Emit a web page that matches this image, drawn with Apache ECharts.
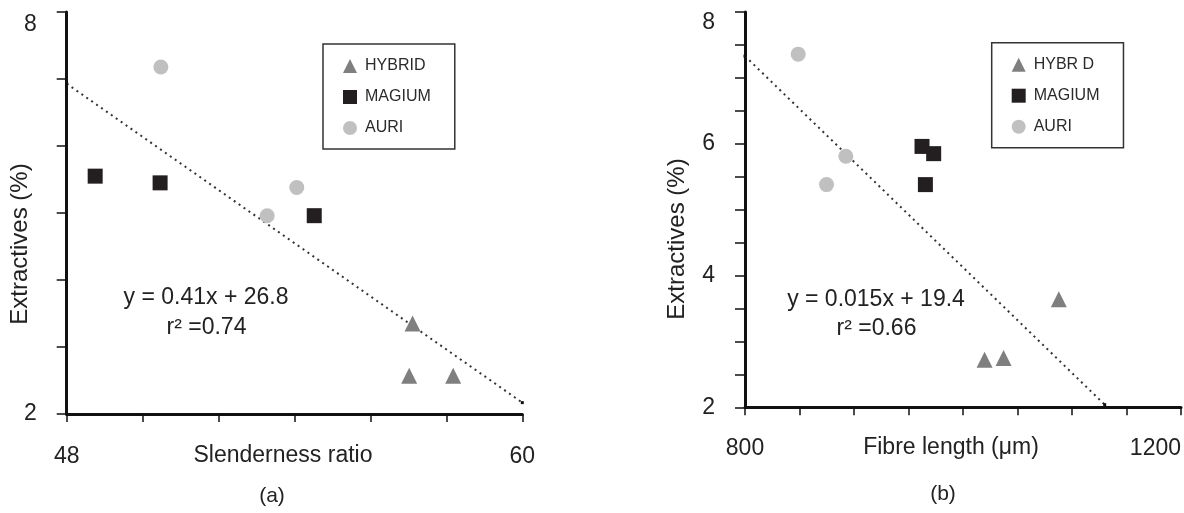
<!DOCTYPE html>
<html>
<head>
<meta charset="utf-8">
<script src="https://cdn.jsdelivr.net/npm/echarts@6/dist/echarts.min.js"></script>
<style>
html,body{margin:0;padding:0;background:#fff;}
#c{width:1184px;height:513px;}
</style>
</head>
<body>
<div id="c"></div>
<script>
// ---- data ----
const legendA = ['HYBRID', 'MAGIUM', 'AURI'];
const legendB = ['HYBR D', 'MAGIUM', 'AURI'];

// (a) Slenderness ratio vs Extractives (%)
const slenderHybrid = [[57.11, 3.35], [57.02, 2.57], [58.18, 2.57]];
const slenderMagium = [[48.75, 5.55], [50.46, 5.45], [54.52, 4.96]];
const slenderAuri   = [[50.48, 7.18], [53.28, 4.96], [54.06, 5.38]];
const slenderTrend  = [[48, 6.93], [60, 2.17]];
const slenderTicksShown = [48, 60];
const slenderEq = ['y = 0.41x + 26.8', 'r\u00B2 =0.74'];

// (b) Fibre length vs Extractives (%)
const fibreHybrid = [[1087.9, 3.64], [1019.8, 2.72], [1037.2, 2.75]];
const fibreMagium = [[962.4, 5.96], [973.1, 5.85], [965.5, 5.38]];
const fibreAuri   = [[848.8, 7.36], [892.5, 5.81], [874.8, 5.38]];
const fibreTrend  = [[800, 7.33], [1130, 2.04]];
const fibreTicksShown = [800, 1200];
const fibreEq = ['y = 0.015x + 19.4', 'r\u00B2 =0.66'];

const yTicksShownA = [2, 8];
const yTicksShownB = [2, 4, 6, 8];

// ---- styles ----
const FONT = '"Liberation Sans", Arial, sans-serif';
const C_HY = '#7f7f7f', C_MA = '#231f20', C_AU = '#c0c0c0';
const AXC = '#111';

function yLabel(shown) {
  return function (v) {
    const r = Math.round(v * 1000) / 1000;
    if (shown.indexOf(r) < 0) return '';
    if (r === 8) return '{t|8}';
    return String(r);
  };
}
function xLabel(shown) {
  return function (v) {
    const r = Math.round(v * 1000) / 1000;
    return shown.indexOf(r) >= 0 ? String(r) : '';
  };
}
function axisCommon() {
  return {
    axisLine: { show: true, onZero: false, lineStyle: { color: AXC, width: 3 } },
    axisTick: { show: true, lineStyle: { color: AXC, width: 1.5 } },
    splitLine: { show: false }
  };
}
function legend(data, left, top) {
  const icons = ['triangle', 'rect', 'circle'];
  return {
    orient: 'vertical', left: left, top: top,
    selectedMode: false,
    data: data.map((n, i) => ({ name: n, icon: icons[i] })),
    itemWidth: 14, itemHeight: 14, itemGap: 15,
    padding: [14, 24, 13, 20],
    borderColor: '#333', borderWidth: 1.5,
    textStyle: { fontFamily: FONT, fontSize: 16, color: '#2a2a2a', padding: [0, 0, 0, 3] }
  };
}
function scatter(name, data, color, symbol, xi) {
  return {
    type: 'scatter', name: name, data: data, xAxisIndex: xi, yAxisIndex: xi,
    symbol: symbol, symbolSize: symbol === 'triangle' ? 16 : 15,
    itemStyle: { color: color, opacity: 1 }, silent: true, z: 3
  };
}
function trend(data, xi) {
  return {
    type: 'line', data: data, xAxisIndex: xi, yAxisIndex: xi,
    symbol: 'rect', symbolSize: 3, showSymbol: true, silent: true,
    itemStyle: { color: '#111' },
    lineStyle: { color: '#333', width: 2, type: [2, 4] }, z: 2
  };
}
function txt(text, x, y, size, rot) {
  return {
    type: 'text', x: x, y: y, rotation: rot || 0, silent: true,
    style: { text: text, font: size + 'px ' + FONT, fill: '#222', textAlign: 'center', textVerticalAlign: 'middle' }
  };
}

const option = {
  animation: false,
  backgroundColor: '#fff',
  grid: [
    { left: 66.7, top: 12, width: 455.6, height: 402, containLabel: false },
    { left: 745, top: 12, width: 436.7, height: 395.3, containLabel: false }
  ],
  legend: [legend(legendA, 323, 44), legend(legendB, 991.7, 42.7)],
  xAxis: [
    Object.assign(axisCommon(), {
      type: 'value', gridIndex: 0, min: 48, max: 60, interval: 2,
      axisTick: { show: true, length: 8, lineStyle: { color: AXC, width: 1.5 } },
      axisLabel: { formatter: xLabel(slenderTicksShown), margin: 31, fontFamily: FONT, fontSize: 23, color: '#222', showMinLabel: true, showMaxLabel: true }
    }),
    Object.assign(axisCommon(), {
      type: 'value', gridIndex: 1, min: 800, max: 1200, interval: 50,
      axisTick: { show: true, length: 8, lineStyle: { color: AXC, width: 1.5 } },
      axisLabel: { formatter: xLabel(fibreTicksShown), margin: 30, fontFamily: FONT, fontSize: 23, color: '#222', showMinLabel: true, showMaxLabel: true, alignMaxLabel: 'right' }
    })
  ],
  yAxis: [
    Object.assign(axisCommon(), {
      type: 'value', gridIndex: 0, min: 2, max: 8, interval: 1,
      axisTick: { show: true, length: 10, lineStyle: { color: AXC, width: 1.5 } },
      axisLabel: { formatter: yLabel(yTicksShownA), margin: 30, fontFamily: FONT, fontSize: 23, color: '#222',
        rich: { t: { fontFamily: FONT, fontSize: 23, color: '#222', padding: [26, 0, 0, 0] } } }
    }),
    Object.assign(axisCommon(), {
      type: 'value', gridIndex: 1, min: 2, max: 8, interval: 0.5,
      axisTick: { show: true, length: 10, lineStyle: { color: AXC, width: 1.5 } },
      axisLabel: { formatter: yLabel(yTicksShownB), margin: 30, fontFamily: FONT, fontSize: 23, color: '#222',
        rich: { t: { fontFamily: FONT, fontSize: 23, color: '#222', padding: [22, 0, 0, 0] } } }
    })
  ],
  series: [
    trend(slenderTrend, 0),
    scatter(legendA[0], slenderHybrid, C_HY, 'triangle', 0),
    scatter(legendA[1], slenderMagium, C_MA, 'rect', 0),
    scatter(legendA[2], slenderAuri, C_AU, 'circle', 0),
    trend(fibreTrend, 1),
    scatter(legendB[0], fibreHybrid, C_HY, 'triangle', 1),
    scatter(legendB[1], fibreMagium, C_MA, 'rect', 1),
    scatter(legendB[2], fibreAuri, C_AU, 'circle', 1)
  ],
  graphic: [
    txt(slenderEq[0], 206, 298, 23),
    txt(slenderEq[1], 206.5, 328, 23),
    txt(fibreEq[0], 876, 300, 23),
    txt(fibreEq[1], 876.5, 329, 23),
    txt('Extractives (%)', 20, 244, 24, Math.PI / 2),
    txt('Extractives (%)', 677, 239, 24, Math.PI / 2),
    txt('Slenderness ratio', 283, 456, 23),
    txt('Fibre length (\u03BCm)', 951, 448, 23),
    txt('(a)', 272, 496, 21),
    txt('(b)', 943, 494, 21)
  ]
};

const chart = echarts.init(document.getElementById('c'), null, { renderer: 'canvas' });
chart.setOption(option);
</script>
</body>
</html>
